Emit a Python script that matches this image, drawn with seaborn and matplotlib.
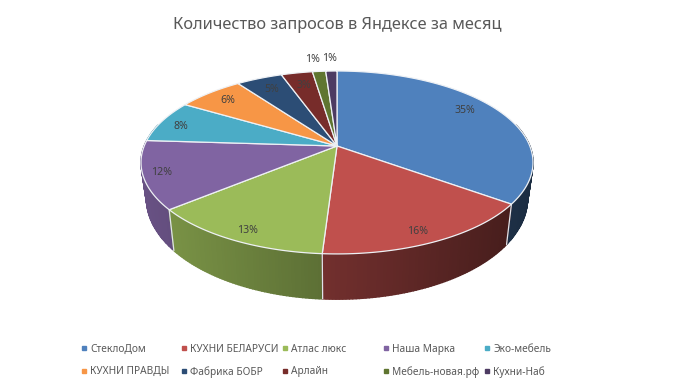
import numpy as np
import matplotlib
matplotlib.use("Agg")
import matplotlib.pyplot as plt
from matplotlib.lines import Line2D
import seaborn as sns

title = "Количество запросов в Яндексе за месяц"
names = ["СтеклоДом", "КУХНИ БЕЛАРУСИ", "Атлас люкс", "Наша Марка", "Эко-мебель",
         "КУХНИ ПРАВДЫ", "Фабрика БОБР", "Арлайн", "Мебель-новая.рф", "Кухни-Наб"]
values = [35, 16, 13, 12, 7.52, 6.48, 4.52, 3.08, 1.3, 1.1]
hex_colors = ["#4F81BD", "#C0504D", "#9BBB59", "#8064A2", "#4BACC6",
              "#F79646", "#2C4D75", "#772C2A", "#5F7530", "#4D3B62"]
label_radius = [0.80, 0.87, 0.89, 0.90, 0.90, 0.84, 0.82, 0.80, 1.20, 1.20]
label_dx = [-1, -3, 1, -2, 2, -1, 0, 0, -4, -1]
label_dy = [-5, 4, 3, 1, 3, 0, 0, 0, 0, 0]

sns.set_theme(style="white")
FONT = ["Noto Sans", "DejaVu Sans"]
plt.rcParams["font.family"] = FONT
palette = sns.color_palette(hex_colors)
TEXT = "#595959"

CX, CY, A, B, K = 337.0, 146.0, 192.8, 88.5, 0.18
SX, SY, D = 0.972, 1.10, 34.5


def project(theta, r=1.0):
    """Perspective view of a point on the pie's disc; theta clockwise from 12 o'clock."""
    u, v = r * np.sin(theta), r * np.cos(theta)
    w = 1 + K * v
    return A * u / w, B * v / w


def top_xy(theta, r=1.0):
    x, y = project(theta, r)
    return CX + x, CY - y


def low_xy(theta):
    x, y = project(theta)
    return CX + SX * x, CY - (SY * y - D)


fractions = np.array(values) / sum(values)
edges = np.concatenate([[0], np.cumsum(fractions)]) * 2 * np.pi

fig = plt.figure(figsize=(6.74, 3.89), dpi=100, facecolor="white")
ax = fig.add_axes([0, 0, 1, 1])
ax.set_xlim(0, 674)
ax.set_ylim(389, 0)
ax.axis("off")

# side wall (front part only), back to front, shaded with horizontal position
quads = []
for i, col in enumerate(palette):
    steps = np.linspace(edges[i], edges[i + 1], max(2, int((edges[i + 1] - edges[i]) * 70)))
    for t0, t1 in zip(steps[:-1], steps[1:]):
        if np.cos((t0 + t1) / 2) > 0.25:
            continue
        xa, ya = top_xy(np.array([t0, t1]))
        xb, yb = low_xy(np.array([t1, t0]))
        xm = (xa.mean() - CX)
        f = 0.58 - 0.0012 * xm
        quads.append((ya.mean(), np.r_[xa, xb], np.r_[ya, yb], tuple(c * f for c in col)))
for _, xs, ys, c in sorted(quads, key=lambda q: q[0]):
    ax.fill(xs, ys, facecolor=c, edgecolor=c, lw=1.0, zorder=1)

for t in edges[:-1]:
    if np.cos(t) < 0.25:
        xa, ya = top_xy(t)
        xb, yb = low_xy(t)
        ax.plot([xa, xb], [ya, yb], color="#dfe3ea", lw=0.9, zorder=2)

# top surface
for i, col in enumerate(palette):
    th = np.linspace(edges[i], edges[i + 1], 120)
    xs, ys = top_xy(th)
    ax.fill(np.r_[CX, xs], np.r_[CY, ys], facecolor=col, edgecolor="#eef1f5",
            lw=0.9, joinstyle="round", zorder=3)

# data labels
for i, v in enumerate(values):
    mid = (edges[i] + edges[i + 1]) / 2
    x, y = top_xy(mid, label_radius[i])
    ax.text(x + label_dx[i], y + label_dy[i], f"{v:.0f}%", ha="center", va="center",
            fontsize=7.6, color="#404040", zorder=4)

ax.text(337, 25, title, ha="center", va="center", fontsize=11.8, color=TEXT)

# legend: five columns of two entries
col_x = [79, 179, 280, 381, 482]
for c in range(5):
    handles = [Line2D([], [], ls="", marker="s", ms=2.4, color=palette[j], label=names[j])
               for j in (c, c + 5)]
    leg = ax.legend(handles=handles, loc="upper left", bbox_to_anchor=(col_x[c], 344),
                    bbox_transform=ax.transData, frameon=False, fontsize=7.3,
                    labelcolor=TEXT, borderpad=0, borderaxespad=0, handlelength=0.9,
                    handletextpad=0.2, labelspacing=1.12)
    ax.add_artist(leg)
ax.legend_ = None

fig.savefig("out.png", dpi=100, facecolor="white")
